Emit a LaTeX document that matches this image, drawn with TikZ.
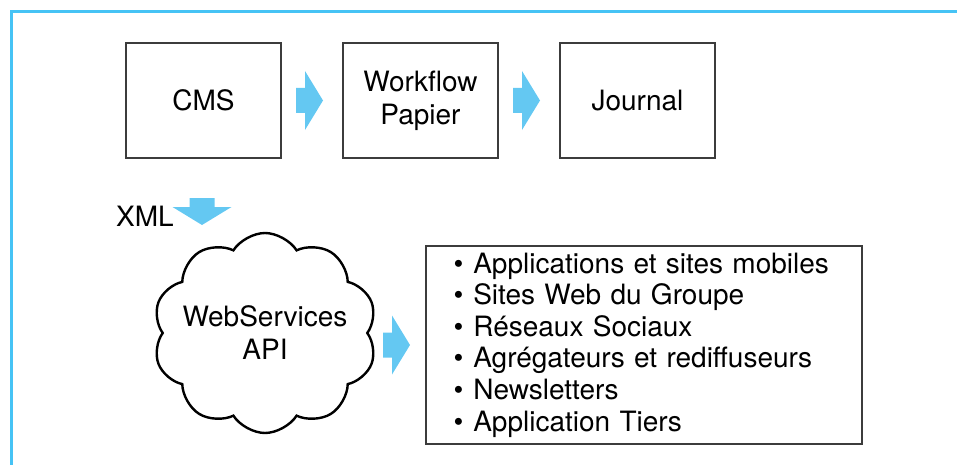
\documentclass[tikz,border=0pt]{standalone}
\usepackage{fontspec}
\setmainfont{TeX Gyre Heros}
\usepackage{tikz}
\usetikzlibrary{shapes.symbols}
\definecolor{frameblue}{RGB}{70,195,245}
\definecolor{arrowblue}{RGB}{100,200,242}
\definecolor{boxgray}{RGB}{60,60,60}

\newcommand{\bluearrow}[2]{%
  \fill[arrowblue,shift={#1},rotate=#2]
    (0,-12.5)--(9,-12.5)--(9,-29.5)--(27,0)--(9,29.5)--(9,12.5)--(0,12.5)--cycle;}
\newcommand{\outitem}[1]{\textbullet\hspace{5pt}#1}

\begin{document}
\begin{tikzpicture}[x=0.5pt,y=-0.5pt,
  font=\fontsize{14}{16.5}\selectfont,
  stage/.style={draw=boxgray,line width=1pt,minimum width=77.5pt,minimum height=57.5pt,align=center}]
  \useasboundingbox (0,0) rectangle (957,465);
  \draw[frameblue,line width=1.1pt] (957,11.5)--(11.5,11.5)--(11.5,465);

  \draw (203.5,100.5) node[stage](cms){CMS};
  \draw (420.5,100.5) node[stage](wf){Workflow\\Papier};
  \draw (637.5,100.5) node[stage](journal){Journal};

  \bluearrow{(296,100.5)}{0}
  \bluearrow{(513,100.5)}{0}
  \bluearrow{(202,198)}{-90}
  \bluearrow{(383,345)}{0}

  \draw (145,216) node(xml){XML};

  \draw (265,333) node[cloud,draw,line width=1.2pt,cloud puffs=10,cloud puff arc=115,
    aspect=1.1,minimum width=112pt,minimum height=100pt,inner sep=0pt,align=center](ws)
    {\makebox[0pt]{WebServices}\\\makebox[0pt]{API}};

  \draw (643.5,345) node[draw=boxgray,line width=1pt,minimum width=218pt,minimum height=98pt,
    inner xsep=14pt,text width=190pt,align=left,
    font=\fontsize{14}{15.8}\selectfont](outlets)
    {\outitem{Applications et sites mobiles}\\
     \outitem{Sites Web du Groupe}\\
     \outitem{Réseaux Sociaux}\\
     \outitem{Agrégateurs et rediffuseurs}\\
     \outitem{Newsletters}\\
     \outitem{Application Tiers}};
\end{tikzpicture}
\end{document}
